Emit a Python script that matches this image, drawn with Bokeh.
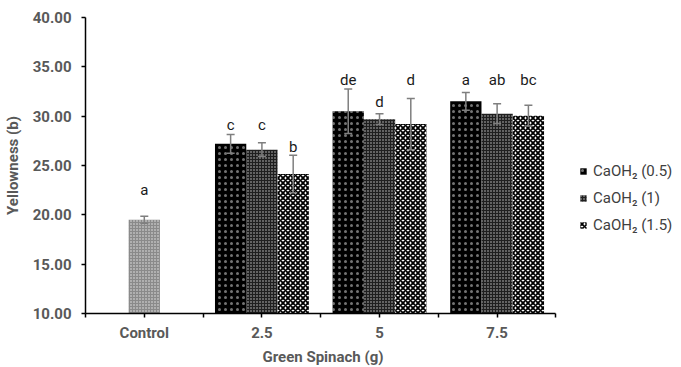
from bokeh.plotting import figure
from bokeh.models import (ColumnDataSource, Range1d, FixedTicker, Whisker, TeeHead,
                          Legend, LegendItem, NumeralTickFormatter, Title)
from bokeh.core.properties import value
from bokeh.embed import file_html
from bokeh.resources import INLINE

# ---------------- data ----------------
categories = ["Control", "2.5", "5", "7.5"]
series_names = ["CaOH\u2082 (0.5)", "CaOH\u2082 (1)", "CaOH\u2082 (1.5)"]

control_mean = [19.5]
control_err = [0.35]
control_letter = ["a"]
control_label_y = [22.5]

ca_05 = [27.2, 30.5, 31.5]
ca_05_err = [0.95, 2.25, 0.9]
ca_05_letters = ["c", "de", "a"]
ca_05_label_y = [29.15, 33.7, 33.7]

ca_1 = [26.6, 29.7, 30.25]
ca_1_err = [0.7, 0.55, 1.0]
ca_1_letters = ["c", "d", "ab"]
ca_1_label_y = [29.15, 31.4, 33.7]

ca_15 = [24.15, 29.2, 30.05]
ca_15_err = [1.9, 2.6, 1.05]
ca_15_letters = ["b", "d", "bc"]
ca_15_label_y = [26.9, 33.7, 33.7]

series_means = [ca_05, ca_1, ca_15]
series_errs = [ca_05_err, ca_1_err, ca_15_err]
series_letters = [ca_05_letters, ca_1_letters, ca_15_letters]
series_label_y = [ca_05_label_y, ca_1_label_y, ca_15_label_y]

x_title = "Green Spinach (g)"
y_title = "Yellowness (b)"

# ---------------- styles / layout ----------------
FONT = "Roboto"
GRAY_TXT = "#595959"
BAR_W = 0.266
W, H = 681, 367
LEFT, TOP, BOTTOM = 83, 17, 54
AXIS_PX = 472                     # pixel length of the category axis
n_cat = len(categories)
x_end = n_cat * (W - LEFT) / AXIS_PX

styles = [
    dict(fill_color="black", hatch_pattern="dot", hatch_color="white", hatch_scale=6, hatch_weight=1, hatch_alpha=0.45),
    dict(fill_color="#1e1e1e", hatch_pattern="dot", hatch_color="white", hatch_scale=3, hatch_weight=1, hatch_alpha=0.75),
    dict(fill_color="white", hatch_pattern="diagonal_cross", hatch_color="black", hatch_scale=5, hatch_weight=1.8),
]
control_style = dict(fill_color="#8a8a8a", hatch_pattern="dot", hatch_color="white", hatch_scale=3, hatch_weight=1, hatch_alpha=0.8)

p = figure(width=W, height=H, output_backend="svg", toolbar_location=None,
           x_range=Range1d(0, x_end), y_range=Range1d(10, 40),
           min_border_left=LEFT, min_border_right=0, min_border_top=TOP, min_border_bottom=BOTTOM)
p.outline_line_color = None
p.xgrid.visible = False
p.ygrid.visible = False

# control bar
csrc = ColumnDataSource(dict(x=[0.5], top=control_mean))
p.vbar(x="x", top="top", bottom=10, width=BAR_W, source=csrc, line_color=None, **control_style)

renderers = []
err_x = [0.5]
err_up = [m + e for m, e in zip(control_mean, control_err)]
err_lo = [m - e for m, e in zip(control_mean, control_err)]
lab_x, lab_y, lab_t = [0.5], list(control_label_y), list(control_letter)
for j, (means, errs, letters, ly) in enumerate(zip(series_means, series_errs, series_letters, series_label_y)):
    xs = [i + 1.5 + (j - 1) * BAR_W for i in range(len(means))]
    src = ColumnDataSource(dict(x=xs, top=means))
    r = p.vbar(x="x", top="top", bottom=10, width=BAR_W, source=src, line_color=None, **styles[j])
    renderers.append(r)
    err_x += xs
    err_up += [m + e for m, e in zip(means, errs)]
    err_lo += [m - e for m, e in zip(means, errs)]
    lab_x += xs
    lab_y += ly
    lab_t += letters

wsrc = ColumnDataSource(dict(base=err_x, upper=err_up, lower=err_lo))
w = Whisker(base="base", upper="upper", lower="lower", source=wsrc, level="overlay",
            line_color="#7f7f7f", line_width=1.5,
            upper_head=TeeHead(size=8, line_color="#7f7f7f", line_width=1.5),
            lower_head=TeeHead(size=8, line_color="#7f7f7f", line_width=1.5))
p.add_layout(w)

tsrc = ColumnDataSource(dict(x=lab_x, y=lab_y, t=lab_t))
p.text(x="x", y="y", text="t", source=tsrc, text_align="center", text_baseline="middle",
       text_font=value(FONT), text_font_size="15px", text_color="#1a1a1a")

# axes
yax = p.yaxis[0]
yax.ticker = FixedTicker(ticks=[10, 15, 20, 25, 30, 35, 40])
yax.formatter = NumeralTickFormatter(format="0.00")
yax.axis_label = y_title
xax = p.xaxis[0]
xax.ticker = FixedTicker(ticks=[i + 0.5 for i in range(n_cat)],
                         minor_ticks=list(range(n_cat + 1)))
xax.major_label_overrides = {i + 0.5: c for i, c in enumerate(categories)}
xax.bounds = (0, n_cat)
for ax in (xax, yax):
    ax.axis_line_color = "black"
    ax.axis_line_width = 1.5
    ax.major_tick_line_color = "black"
    ax.major_tick_line_width = 1.5
    ax.major_tick_in = 0
    ax.major_tick_out = 4
    ax.minor_tick_in = 0
    ax.minor_tick_out = 4
    ax.minor_tick_line_color = "black"
    ax.minor_tick_line_width = 1.5
    ax.major_label_text_font = FONT
    ax.major_label_text_font_size = "15px"
    ax.major_label_text_font_style = "bold"
    ax.major_label_text_color = GRAY_TXT
    ax.axis_label_text_font = FONT
    ax.axis_label_text_font_size = "15px"
    ax.axis_label_text_font_style = "bold"
    ax.axis_label_text_color = GRAY_TXT
yax.minor_tick_line_color = None
yax.major_label_standoff = 10
yax.axis_label_standoff = 8
xax.major_label_standoff = 6

# x title centred under the category axis (not under the whole frame)
p.add_layout(Title(text=x_title, align="left", offset=177, standoff=3,
                   text_font=FONT, text_font_size="15px", text_font_style="bold",
                   text_color=GRAY_TXT), "below")

legend = Legend(items=[LegendItem(label=n, renderers=[r]) for n, r in zip(series_names, renderers)],
                location=(494, 78), glyph_width=8, glyph_height=8, label_standoff=6,
                label_height=20, spacing=7, padding=0, margin=0,
                border_line_color=None, background_fill_alpha=0,
                label_text_font=FONT, label_text_font_size="15px", label_text_color="#404040")
p.add_layout(legend, "center")

open("out.html", "w").write(file_html(p, INLINE))
